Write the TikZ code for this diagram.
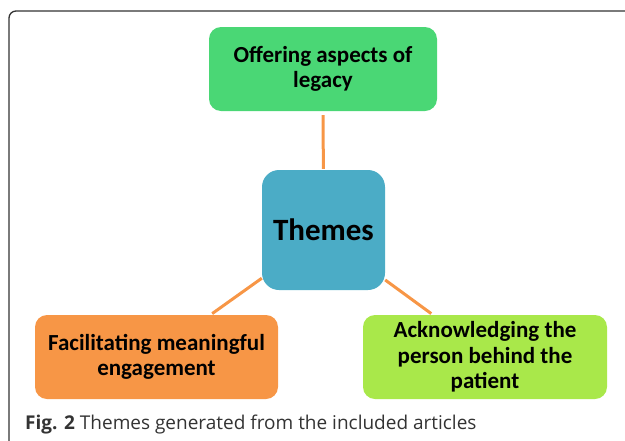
\documentclass[tikz,border=0pt]{standalone}
\usepackage{fontspec}
\setmainfont{Carlito}
\newfontfamily\capfont{Open Sans}
\usetikzlibrary{positioning}

\definecolor{legacygreen}{HTML}{4AD775}
\definecolor{themeblue}{HTML}{4BACC6}
\definecolor{engageorange}{HTML}{F79646}
\definecolor{personlime}{HTML}{A9E84A}
\definecolor{framegray}{HTML}{333333}

\begin{document}
\begin{tikzpicture}[x=1pt,y=-1pt,
  theme node/.style={rounded corners=12pt,align=center,inner sep=0pt,
    font=\fontsize{23}{25.5}\selectfont\bfseries},
  link/.style={draw=engageorange,line width=3pt}]
  \useasboundingbox (0,0) rectangle (625,440);
  \draw[framegray,line width=1.3pt,rounded corners=7pt] (9,11) rectangle (660,470);
  \node[theme node,fill=themeblue,minimum width=123pt,minimum height=120pt,
    rounded corners=17pt,font=\fontsize{31}{36}\selectfont\bfseries] (1) at (323.5,230) {Themes};
  \node[theme node,fill=legacygreen,minimum width=228pt,minimum height=84pt] (2) at (323,69)
    {Offering aspects of\\legacy};
  \node[theme node,fill=engageorange,minimum width=243pt,minimum height=84pt] (3) at (156.5,357)
    {Facilitating meaningful\\engagement};
  \node[theme node,fill=personlime,minimum width=244pt,minimum height=84pt] (4) at (485,357)
    {Acknowledging the\\person behind the\\patient};
  \path[link]
    (2) edge[shorten <=4pt,shorten >=1pt] (1)
    (1.-142) edge[shorten >=2pt] (3.38)
    (1.-39) edge[shorten >=2pt] (4.141);
  \node[anchor=base west,inner sep=0pt,text=framegray,font=\capfont\fontsize{19}{22}\selectfont]
    (cap) at (25,429) {\textbf{Fig. 2} Themes generated from the included articles};
\end{tikzpicture}
\end{document}
